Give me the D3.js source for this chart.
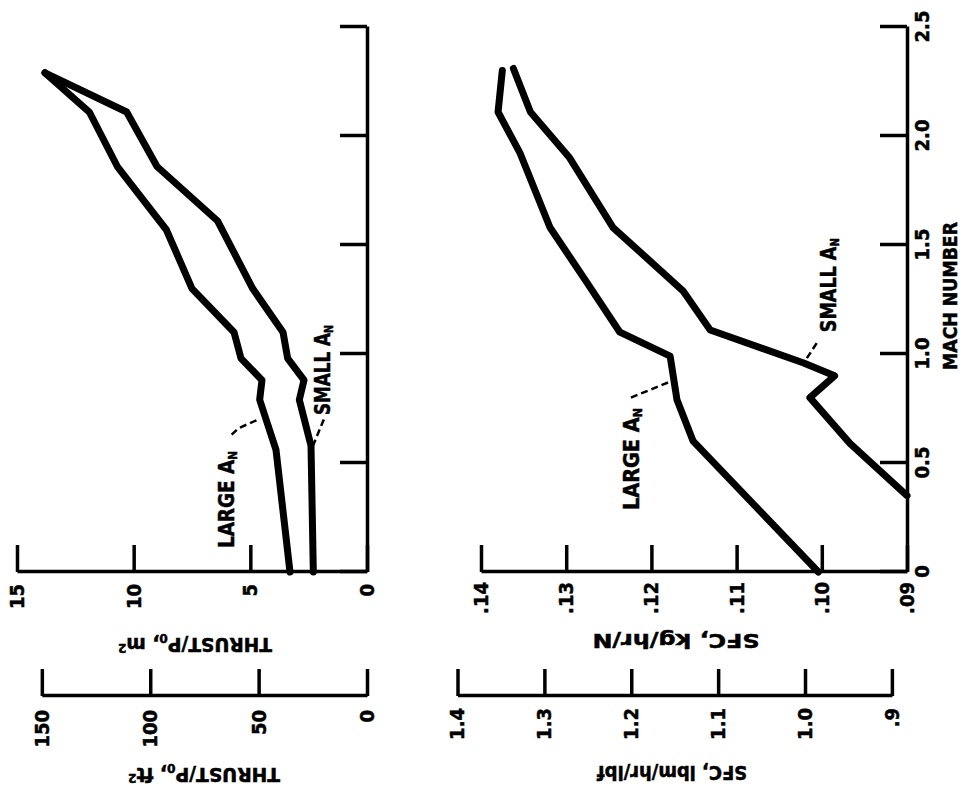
<!DOCTYPE html>
<html>
<head>
<meta charset="utf-8">
<style>
body { margin: 0; background: #fff; }
svg text { font-family: "DejaVu Sans Condensed", "Liberation Sans Narrow", sans-serif; font-weight: bold; fill: #000; stroke: #000; stroke-width: 0.5; }
.axis path, .axis line { stroke: #000; stroke-width: 3.5; }
</style>
<script src="https://cdn.jsdelivr.net/npm/d3@7"></script>
</head>
<body>
<div id="chart-area"></div>
<script>
// tick values and labels
var machTicks = [0, 0.5, 1.0, 1.5, 2.0, 2.5];
var machLabels = ["0", "0.5", "1.0", "1.5", "2.0", "2.5"];
var thrustTicks = [0, 5, 10, 15];
var thrustLabels = ["0", "5", "10", "15"];
var thrustFtTicks = [0, 50, 100, 150];
var thrustFtLabels = ["0", "50", "100", "150"];
var sfcTicks = [0.09, 0.10, 0.11, 0.12, 0.13, 0.14];
var sfcLabels = [".09", ".10", ".11", ".12", ".13", ".14"];
var sfcLbTicks = [0.9, 1.0, 1.1, 1.2, 1.3, 1.4];
var sfcLbLabels = [".9", "1.0", "1.1", "1.2", "1.3", "1.4"];

// thrust / p0, m^2
var thrustLargeMach = [0, 0.56, 0.79, 0.88, 0.98, 1.10, 1.30, 1.57, 1.86, 2.11, 2.29];
var thrustLarge     = [3.3, 3.9, 4.6, 4.5, 5.4, 5.7, 7.5, 8.6, 10.7, 11.9, 13.8];
var thrustSmallMach = [0, 0.58, 0.79, 0.88, 0.98, 1.10, 1.30, 1.61, 1.86, 2.11, 2.29];
var thrustSmall     = [2.3, 2.4, 2.9, 2.7, 3.4, 3.6, 4.9, 6.4, 9.0, 10.3, 13.8];

// sfc, kg/hr/N
var sfcLargeMach = [0, 0.60, 0.79, 0.99, 1.10, 1.33, 1.58, 1.92, 2.11, 2.30];
var sfcLarge     = [0.1004, 0.1151, 0.1170, 0.1178, 0.1237, 0.1276, 0.1319, 0.1354, 0.1380, 0.1375];
var sfcSmallMach = [0.35, 0.59, 0.80, 0.90, 0.96, 1.11, 1.29, 1.58, 1.90, 2.11, 2.31];
var sfcSmall     = [0.0900, 0.0967, 0.1014, 0.0985, 0.1022, 0.1131, 0.1163, 0.1245, 0.1296, 0.1342, 0.1362];

var FT2_PER_M2 = 10.7639;
var KG_PER_LB = 0.10197;

var W = 969, H = 803;

var svg = d3.select("#chart-area")
    .append("svg")
        .attr("width", W)
        .attr("height", H);

svg.append("rect").attr("width", W).attr("height", H).attr("fill", "#fff");

// the whole figure is drawn in its own frame and turned a quarter left
var g = svg.append("g")
    .attr("transform", "translate(0," + H + ") rotate(-90)");

var x = d3.scaleLinear().domain([0, 2.5]).range([231, 776]);

var yThrust = d3.scaleLinear().domain([0, 15]).range([367, 17]);
var yThrustFt = d3.scaleLinear()
    .domain([0, 150])
    .range([yThrust(0), yThrust(150 / FT2_PER_M2)]);

var ySfc = d3.scaleLinear().domain([0.09, 0.14]).range([907, 481]);
var ySfcLb = d3.scaleLinear()
    .domain([0.9, 1.4])
    .range([ySfc(0.9 * KG_PER_LB), ySfc(1.4 * KG_PER_LB)]);

var outerAxisPos = 107;

function styleAxis(sel) {
    sel.attr("font-family", null).attr("font-size", null)
        .selectAll("text").style("font-size", "20px");
}

// mach axes
g.append("g")
    .attr("class", "axis")
    .attr("transform", "translate(0," + yThrust(0) + ")")
    .call(d3.axisBottom(x).tickValues(machTicks).tickSize(-27).tickSizeOuter(0).tickFormat(""))
    .call(styleAxis);

g.append("g")
    .attr("class", "axis")
    .attr("transform", "translate(0," + ySfc(0.09) + ")")
    .call(d3.axisBottom(x).tickValues(machTicks).tickSize(-27).tickSizeOuter(0).tickPadding(8)
        .tickFormat(function(d, i){ return machLabels[i]; }))
    .call(styleAxis);

// value axes
g.append("g")
    .attr("class", "axis")
    .attr("transform", "translate(" + x(0) + ",0)")
    .call(d3.axisLeft(yThrust).tickValues(thrustTicks).tickSize(-27).tickSizeOuter(0).tickPadding(12)
        .tickFormat(function(d, i){ return thrustLabels[i]; }))
    .call(styleAxis);

g.append("g")
    .attr("class", "axis")
    .attr("transform", "translate(" + outerAxisPos + ",0)")
    .call(d3.axisLeft(yThrustFt).tickValues(thrustFtTicks).tickSize(-27).tickSizeOuter(0).tickPadding(14)
        .tickFormat(function(d, i){ return thrustFtLabels[i]; }))
    .call(styleAxis);

g.append("g")
    .attr("class", "axis")
    .attr("transform", "translate(" + x(0) + ",0)")
    .call(d3.axisLeft(ySfc).tickValues(sfcTicks).tickSize(-27).tickSizeOuter(0).tickPadding(10)
        .tickFormat(function(d, i){ return sfcLabels[i]; }))
    .call(styleAxis);

g.append("g")
    .attr("class", "axis")
    .attr("transform", "translate(" + outerAxisPos + ",0)")
    .call(d3.axisLeft(ySfcLb).tickValues(sfcLbTicks).tickSize(-27).tickSizeOuter(0).tickPadding(12)
        .tickFormat(function(d, i){ return sfcLbLabels[i]; }))
    .call(styleAxis);

// axis titles
function title(u, v, angle, len, parts) {
    var t = g.append("text")
        .attr("transform", "translate(" + u + "," + v + ") rotate(" + angle + ")")
        .attr("text-anchor", "middle")
        .attr("dy", "0.35em")
        .attr("font-size", "20px")
        .attr("textLength", len)
        .attr("lengthAdjust", "spacingAndGlyphs");
    parts.forEach(function(p){
        var s = t.append("tspan").text(p[0]);
        if (p[1] == "sub") s.attr("font-size", "13px").attr("baseline-shift", "-30%");
        if (p[1] == "sup") s.attr("font-size", "13px").attr("baseline-shift", "45%");
    });
}

title(158, 195, -90, 154, [["THRUST/P"], ["0", "sub"], [",  m"], ["2", "sup"]]);
title(28, 204, -90, 152, [["THRUST/P"], ["0", "sub"], [",  ft"], ["2", "sup"]]);
title(162, 676, -90, 167, [["SFC,  kg/hr/N"]]);
title(30, 672, -90, 150, [["SFC,  lbm/hr/lbf"]]);
title(507, 950, 0, 148, [["MACH NUMBER"]]);

// curves
var thrustLine = d3.line()
    .x(function(d){ return x(d[0]); })
    .y(function(d){ return yThrust(d[1]); });

var sfcLine = d3.line()
    .x(function(d){ return x(d[0]); })
    .y(function(d){ return ySfc(d[1]); });

[d3.zip(thrustLargeMach, thrustLarge), d3.zip(thrustSmallMach, thrustSmall)].forEach(function(s){
    g.append("path")
        .attr("d", thrustLine(s))
        .attr("fill", "none")
        .attr("stroke", "#000")
        .attr("stroke-width", 7)
        .attr("stroke-linejoin", "round")
        .attr("stroke-linecap", "round");
});

[d3.zip(sfcLargeMach, sfcLarge), d3.zip(sfcSmallMach, sfcSmall)].forEach(function(s){
    g.append("path")
        .attr("d", sfcLine(s))
        .attr("fill", "none")
        .attr("stroke", "#000")
        .attr("stroke-width", 7)
        .attr("stroke-linejoin", "round")
        .attr("stroke-linecap", "round");
});

// curve labels with dashed leaders
var thrustNotes = [
    { label: "LARGE A", mach: 0.11, value: 5.7, len: 97, leader: [[0.63, 5.8], [0.66, 5.5], [0.70, 4.65]] },
    { label: "SMALL A", mach: 0.72, value: 1.6, len: 90, leader: [[0.70, 1.85], [0.57, 2.35]] }
];
var sfcNotes = [
    { label: "LARGE A", mach: 0.284, value: 0.1214, len: 102, leader: [[0.80, 0.1224], [0.87, 0.1180]] },
    { label: "SMALL A", mach: 1.10, value: 0.0983, len: 94, leader: [[1.05, 0.1006], [0.96, 0.1021]] }
];

function drawNotes(notes, yScale) {
    notes.forEach(function(n){
        var t = g.append("text")
            .attr("x", x(n.mach))
            .attr("y", yScale(n.value))
            .attr("font-size", "21px")
            .attr("textLength", n.len)
            .attr("lengthAdjust", "spacingAndGlyphs");
        t.append("tspan").text(n.label);
        t.append("tspan").text("N").attr("font-size", "12px").attr("baseline-shift", "-25%");

        g.append("path")
            .attr("d", d3.line()
                .x(function(d){ return x(d[0]); })
                .y(function(d){ return yScale(d[1]); })(n.leader))
            .attr("fill", "none")
            .attr("stroke", "#000")
            .attr("stroke-width", 2.5)
            .attr("stroke-dasharray", "7,4");
    });
}

drawNotes(thrustNotes, yThrust);
drawNotes(sfcNotes, ySfc);
</script>
</body>
</html>
